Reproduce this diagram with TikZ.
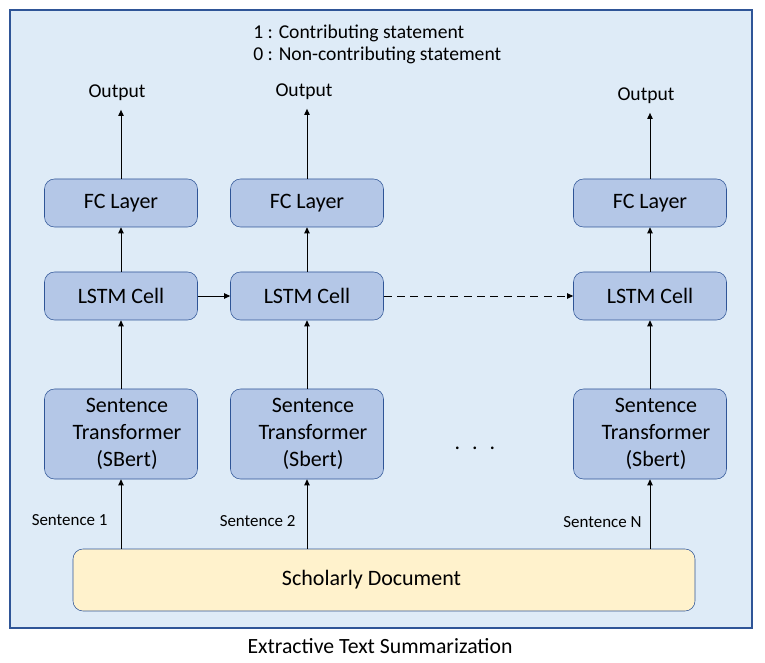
\documentclass[tikz,border=0pt]{standalone}
\usepackage{fontspec}
\setmainfont{Carlito}
\usetikzlibrary{arrows.meta}
\definecolor{framefill}{HTML}{DEEBF7}
\definecolor{edgeblue}{HTML}{2F5597}
\definecolor{boxfill}{HTML}{B4C7E7}
\definecolor{docfill}{HTML}{FFF2CC}
\newcommand{\shiftlines}[1]{\hspace*{9pt}\raisebox{-1.5pt}{\begin{tabular}{@{}c@{}}#1\end{tabular}}}
\begin{document}
\begin{tikzpicture}[x=0.75pt,y=-0.75pt,
    block/.style={draw=edgeblue,fill=boxfill,rounded corners=7.5pt,minimum width=114.75pt,
      minimum height=36pt,inner sep=0pt,font=\fontsize{16.5}{20.25}\selectfont},
    tallblock/.style={block,minimum height=67.5pt},
    link/.style={-{Triangle[length=4.5pt,width=4pt]},line width=0.7pt},
    labeltext/.style={inner sep=0pt,font=\fontsize{14.7}{16.5}\selectfont},
    sentlabel/.style={inner sep=0pt,font=\fontsize{12.7}{15}\selectfont}]
  \useasboundingbox (0,0) rectangle (765,663);
  % Background frame
  \draw[draw=edgeblue,fill=framefill,line width=0.8pt] (10,10) rectangle (752,628);

  % Legend and outputs
  \node[labeltext,anchor=west,align=left] (legend) at (253,44) {1 : Contributing statement\\0 : Non-contributing statement};
  \node[labeltext] (out1) at (117,93) {Output};
  \node[labeltext] (out2) at (304,92) {Output};
  \node[labeltext] (out3) at (646,96) {Output};

  % Blocks of each time step
  \node[block] (fc1) at (121,203) {FC Layer};
  \node[block] (fc2) at (307,203) {FC Layer};
  \node[block] (fc3) at (650,203) {FC Layer};
  \node[block] (lstm1) at (121,296) {LSTM Cell};
  \node[block] (lstm2) at (307,296) {LSTM Cell};
  \node[block] (lstm3) at (650,296) {LSTM Cell};
  \node[tallblock] (st1) at (121,434) {\shiftlines{Sentence\\Transformer\\(SBert)}};
  \node[tallblock] (st2) at (307,434) {\shiftlines{Sentence\\Transformer\\(Sbert)}};
  \node[tallblock] (st3) at (650,434) {\shiftlines{Sentence\\Transformer\\(Sbert)}};
  \node[anchor=base,font=\fontsize{16.5}{20}\selectfont] (dots) at (475,450) {.\hspace{9pt}.\hspace{9pt}.};

  % Input document
  \node[draw=edgeblue,fill=docfill,rounded corners=7.5pt,minimum width=466.5pt,minimum height=46.5pt,
    font=\fontsize{16.5}{20}\selectfont] (doc) at (384,580) {\raisebox{-1.5pt}{Scholarly Document}\hspace*{18.75pt}};

  % Arrows
  \foreach \i in {1,2,3} {
    \draw[link,shorten >=6.5pt] (fc\i.north) -- (fc\i.north |- out\i.south);
    \draw[link] (lstm\i) -- (fc\i);
    \draw[link] (st\i) -- (lstm\i);
  }
  \draw[link] (doc.north -| st1.south) -- (st1.south) node[sentlabel,pos=0.41,left=9.75pt] {Sentence 1};
  \draw[link] (doc.north -| st2.south) -- (st2.south) node[sentlabel,pos=0.40,left=8.25pt] {Sentence 2};
  \draw[link] (doc.north -| st3.south) -- (st3.south) node[sentlabel,pos=0.39,left=6pt] {Sentence N};
  \draw[link] (lstm1) -- (lstm2);
  \draw[link,dash pattern=on 6pt off 4pt] (lstm2) -- (lstm3);

  % Caption
  \node[font=\fontsize{16.3}{20}\selectfont] (caption) at (380,646) {Extractive Text Summarization};
\end{tikzpicture}
\end{document}
